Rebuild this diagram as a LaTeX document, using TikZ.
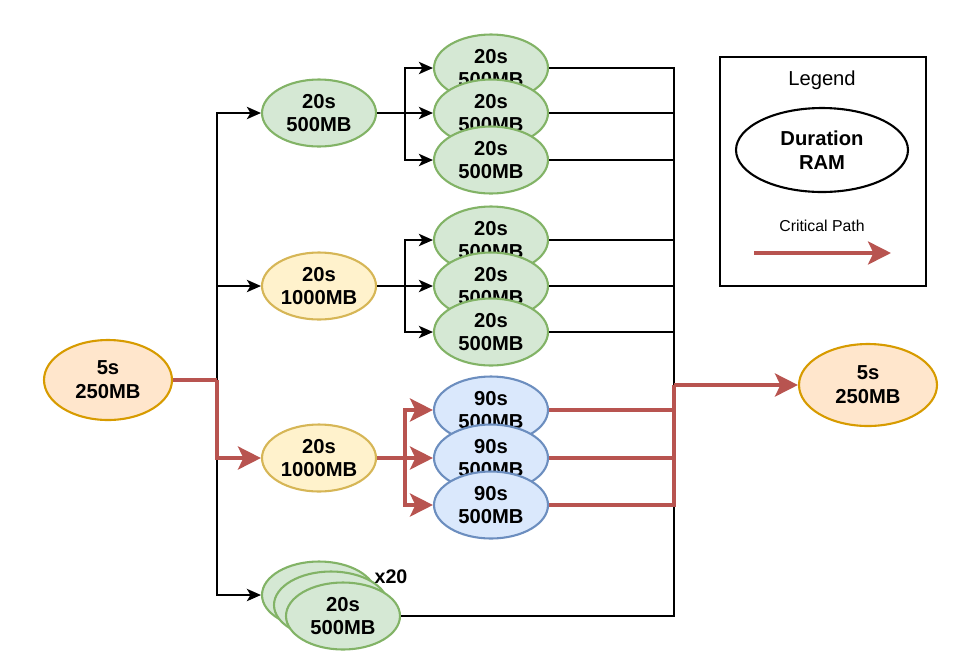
\documentclass[tikz,border=0pt]{standalone}
\usepackage{fontspec}
\setmainfont{Liberation Sans}
\usetikzlibrary{shapes.geometric,arrows.meta}

\definecolor{grnfill}{HTML}{D5E8D4}
\definecolor{grnline}{HTML}{82B366}
\definecolor{ylwfill}{HTML}{FFF2CC}
\definecolor{ylwline}{HTML}{D6B656}
\definecolor{orgfill}{HTML}{FFE6CC}
\definecolor{orgline}{HTML}{D79B00}
\definecolor{bluefill}{HTML}{DAE8FC}
\definecolor{blueline}{HTML}{6C8EBF}
\definecolor{critred}{HTML}{B85450}

\begin{document}
\begin{tikzpicture}[x=0.02cm, y=-0.02cm,
    task/.style={ellipse, draw, line width=1.2pt, inner sep=1pt,
      minimum width=2.28cm, minimum height=1.34cm, align=center,
      font=\bfseries\fontsize{11.5}{13.6}\selectfont},
    green/.style={task, fill=grnfill, draw=grnline},
    yellow/.style={task, fill=ylwfill, draw=ylwline},
    blue/.style={task, fill=bluefill, draw=blueline},
    orange/.style={task, fill=orgfill, draw=orgline, minimum width=2.56cm, minimum height=1.6cm},
    link/.style={draw=black, line width=1.1pt},
    arr/.style={link, -{Stealth[length=8pt, width=7pt, inset=2pt]}},
    crit/.style={draw=critred, line width=2.6pt},
    critarr/.style={crit, -{Stealth[length=13pt, width=13pt, inset=3pt]}}]
  \useasboundingbox (0, 0) rectangle (970, 664);

  % tasks
  \node[orange] (start) at (108, 380) {5s\\250MB};
  \node[orange, minimum width=2.76cm, minimum height=1.64cm] (finish) at (868, 385) {5s\\250MB};
  \node[green] (a1) at (319, 113) {20s\\500MB};
  \node[yellow] (a2) at (319, 286) {20s\\1000MB};
  \node[yellow] (a3) at (319, 458) {20s\\1000MB};
  \node[green] (a4a) at (319, 595) {};
  \node[green] (a4b) at (331, 605) {};
  \node[green] (a4) at (343, 616) {20s\\500MB};
  \node[font=\bfseries\fontsize{11.2}{13}\selectfont] (times) at (391, 577) {x20};

  \node[green] (b11) at (491, 68) {20s\\500MB};
  \node[green] (b12) at (491, 113) {20s\\500MB};
  \node[green] (b13) at (491, 160) {20s\\500MB};
  \node[green] (b21) at (491, 240) {20s\\500MB};
  \node[green] (b22) at (491, 286) {20s\\500MB};
  \node[green] (b23) at (491, 332) {20s\\500MB};
  \node[blue] (c31) at (491, 410) {90s\\500MB};
  \node[blue] (c32) at (491, 458) {90s\\500MB};
  \node[blue] (c33) at (491, 505) {90s\\500MB};

  \coordinate (trunk) at (217, 380);
  \coordinate (fork1) at (405, 113);
  \coordinate (fork2) at (405, 286);
  \coordinate (fork3) at (405, 458);
  \coordinate (join) at (674, 385);

  % plain links
  \draw[arr] (trunk) |- (a1.west);
  \draw[arr] (trunk) |- (a2.west);
  \draw[arr] (trunk) |- (a4a.west);
  \draw[arr] (a1.east) -- (b12.west);
  \draw[arr] (fork1) |- (b11.west);
  \draw[arr] (fork1) |- (b13.west);
  \draw[arr] (a2.east) -- (b22.west);
  \draw[arr] (fork2) |- (b21.west);
  \draw[arr] (fork2) |- (b23.west);
  \foreach \n in {b11, b12, b13, b21, b22, b23, a4}
    \draw[link] (\n.east) -| (join);

  % critical path
  \draw[crit] (start.east) -- (trunk);
  \draw[critarr] (trunk) |- (a3.west);
  \draw[critarr] (a3.east) -- (c32.west);
  \draw[critarr] (fork3) |- (c31.west);
  \draw[critarr] (fork3) |- (c33.west);
  \foreach \n in {c31, c32, c33}
    \draw[crit] (\n.east) -| (join);
  \draw[critarr] (join) -- (finish.west);

  % legend
  \node[draw, line width=1.1pt, minimum width=4.12cm, minimum height=4.58cm] (legend) at (823, 171.5) {};
  \node[font=\fontsize{11.5}{13.6}\selectfont] (legtitle) at (822, 80) {Legend};
  \node[task, fill=white, draw=black, minimum width=3.44cm, minimum height=1.68cm] (legnode) at (822, 150) {Duration\\RAM};
  \node[font=\fontsize{9}{11}\selectfont] (legcrit) at (822, 226) {Critical Path};
  \coordinate (legfrom) at (754, 253);
  \coordinate (legto) at (891, 253);
  \draw[critarr] (legfrom) -- (legto);
\end{tikzpicture}
\end{document}
